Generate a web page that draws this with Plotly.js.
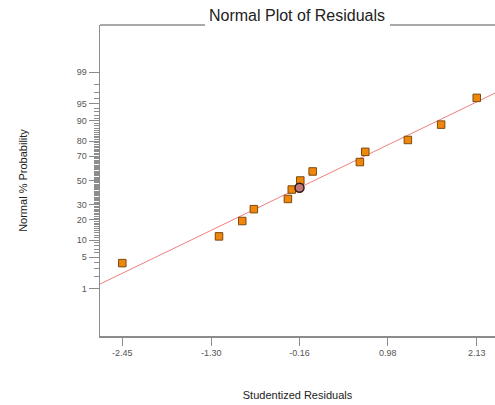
<!DOCTYPE html>
<html>
<head>
<meta charset="utf-8">
<script src="https://cdn.plot.ly/plotly-3.0.1.min.js"></script>
<style>html,body{margin:0;padding:0;background:#fff;}#chart{width:495px;height:405px;}</style>
</head>
<body>
<div id="chart"></div>
<script>
// ---- data ----
var residuals = [-2.45, -1.20, -0.90, -0.75, -0.31, -0.26, -0.15, 0.01, 0.62, 0.69, 1.24, 1.67, 2.13];
var probPct   = [3.8, 11.5, 19.2, 26.9, 34.6, 42.3, 50.0, 57.7, 65.4, 73.1, 80.8, 88.5, 96.2];
var highlightX = [-0.16];
var highlightP = [43.8];
var fitLineX = [-2.74, 2.37];
var fitLineP = [1.3, 97.0];
var xTickVals = [-2.45, -1.30, -0.16, 0.98, 2.13];
var xTickText = ["-2.45", "-1.30", "-0.16", "0.98", "2.13"];
var yTickPct = [1, 5, 10, 20, 30, 50, 70, 80, 90, 95, 99];
var yTickText = ["1", "5", "10", "20", "30", "50", "70", "80", "90", "95", "99"];

// inverse standard normal CDF (Acklam)
function probit(p) {
  var a = [-3.969683028665376e+01, 2.209460984245205e+02, -2.759285104469687e+02, 1.383577518672690e+02, -3.066479806614716e+01, 2.506628277459239e+00];
  var b = [-5.447609879822406e+01, 1.615858368580409e+02, -1.556989798598866e+02, 6.680131188771972e+01, -1.328068155288572e+01];
  var c = [-7.784894002430293e-03, -3.223964580411365e-01, -2.400758277161838e+00, -2.549732539343734e+00, 4.374664141464968e+00, 2.938163982698783e+00];
  var d = [7.784695709041462e-03, 3.224671290700398e-01, 2.445134137142996e+00, 3.754408661907416e+00];
  var pl = 0.02425, ph = 1 - pl, q, r;
  if (p < pl) { q = Math.sqrt(-2 * Math.log(p));
    return (((((c[0]*q+c[1])*q+c[2])*q+c[3])*q+c[4])*q+c[5]) / ((((d[0]*q+d[1])*q+d[2])*q+d[3])*q+1); }
  if (p <= ph) { q = p - 0.5; r = q*q;
    return (((((a[0]*r+a[1])*r+a[2])*r+a[3])*r+a[4])*r+a[5])*q / (((((b[0]*r+b[1])*r+b[2])*r+b[3])*r+b[4])*r+1); }
  q = Math.sqrt(-2 * Math.log(1 - p));
  return -(((((c[0]*q+c[1])*q+c[2])*q+c[3])*q+c[4])*q+c[5]) / ((((d[0]*q+d[1])*q+d[2])*q+d[3])*q+1);
}
function toZ(arr) { return arr.map(function (v) { return probit(v / 100); }); }

var minorPct = [];
for (var i = 1; i <= 99; i++) { if (yTickPct.indexOf(i) < 0) minorPct.push(i); }

var FONT = "Arial, 'Liberation Sans', sans-serif";
var AX = "#8c8c8c";

var traces = [
  { x: fitLineX, y: toZ(fitLineP), mode: "lines", type: "scatter",
    line: { color: "#ee8080", width: 1 }, hoverinfo: "skip", showlegend: false },
  { x: residuals, y: toZ(probPct), mode: "markers", type: "scatter",
    marker: { symbol: "square", size: 7.5, color: "#f0860a", line: { color: "#7a4a12", width: 1 } },
    showlegend: false },
  { x: highlightX, y: toZ(highlightP), mode: "markers", type: "scatter",
    marker: { symbol: "circle", size: 9, color: "#c47878", line: { color: "#2e1a1a", width: 1.5 } },
    showlegend: false }
];

var layout = {
  width: 495, height: 405,
  margin: { l: 100, r: 0, t: 25, b: 69 },
  paper_bgcolor: "#ffffff", plot_bgcolor: "#ffffff",
  font: { family: FONT, color: "#333" },
  title: { text: "Normal Plot of Residuals", x: 297 / 495, xanchor: "center",
    y: 1 - 15 / 405, yanchor: "middle", yref: "container", xref: "container",
    font: { family: FONT, size: 16, color: "#222" } },
  xaxis: {
    range: [-2.738, 2.366], showgrid: false, zeroline: false,
    showline: true, linecolor: AX, linewidth: 1.5, mirror: false,
    ticks: "outside", ticklen: 8, tickcolor: AX, tickwidth: 1,
    tickmode: "array", tickvals: xTickVals, ticktext: xTickText,
    tickfont: { family: FONT, size: 9, color: "#555" },
    title: { text: "Studentized Residuals", standoff: 34, font: { family: FONT, size: 11, color: "#222" } },
    automargin: false
  },
  yaxis: {
    range: [-3.34, 3.34], showgrid: false, zeroline: false,
    showline: true, linecolor: AX, linewidth: 1.5, mirror: false,
    ticks: "outside", ticklen: 10, tickcolor: AX, tickwidth: 1,
    tickmode: "array", tickvals: toZ(yTickPct), ticktext: yTickText,
    tickfont: { family: FONT, size: 9, color: "#555" },
    minor: { tickmode: "array", tickvals: toZ(minorPct), ticks: "outside", ticklen: 5, tickcolor: AX, tickwidth: 1 },
    title: { text: "Normal % Probability", standoff: 47, font: { family: FONT, size: 11, color: "#222" } },
    automargin: false
  },
  shapes: [
    { type: "line", xref: "paper", yref: "paper", x0: 0, x1: (205 - 100) / 395, y0: 1, y1: 1,
      line: { color: AX, width: 1.5 } },
    { type: "line", xref: "paper", yref: "paper", x0: (390 - 100) / 395, x1: 1, y0: 1, y1: 1,
      line: { color: AX, width: 1.5 } }
  ]
};

Plotly.newPlot("chart", traces, layout, { displayModeBar: false, staticPlot: true });
</script>
</body>
</html>
